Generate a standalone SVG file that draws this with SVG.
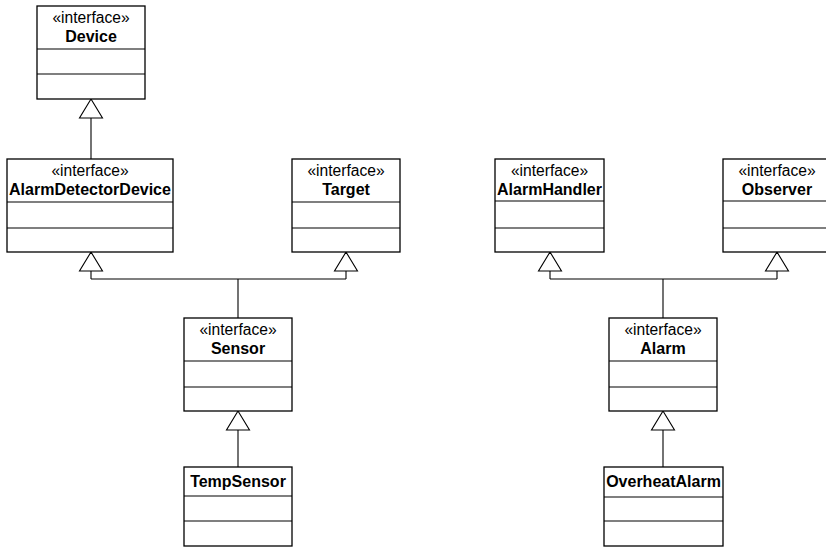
<svg xmlns="http://www.w3.org/2000/svg" width="826" height="547" viewBox="0 0 826 547">
  <style>
    .box { fill: #ffffff; stroke: #000000; stroke-width: 1.3; }
    .sep { stroke: #000000; stroke-width: 1.1; }
    .st { font-family: "Liberation Sans", Arial, sans-serif; font-size: 15.6px; fill: #000000; text-anchor: middle; }
    .nm { font-family: "Liberation Sans", Arial, sans-serif; font-size: 16px; font-weight: bold; fill: #000000; text-anchor: middle; }
    .wire { fill: none; stroke: #000000; stroke-width: 1.1; }
    .head { fill: #ffffff; stroke: #000000; stroke-width: 1.1; }
  </style>
  <rect width="826" height="547" fill="#ffffff"/>

  <!-- generalization connectors -->
  <g id="connectors">
    <!-- AlarmDetectorDevice -> Device -->
    <path class="wire" d="M91 159 V117"/>
    <polygon class="head" points="91,99 79.5,118 102.5,118"/>
    <!-- Sensor -> AlarmDetectorDevice, Target -->
    <path class="wire" d="M238 318 V279 M91 279 H346 M91 279 V271 M346 279 V271"/>
    <polygon class="head" points="91,252 79.5,271 102.5,271"/>
    <polygon class="head" points="346,252 334.5,271 357.5,271"/>
    <!-- TempSensor -> Sensor -->
    <path class="wire" d="M238 467 V430"/>
    <polygon class="head" points="238,411 226.5,430 249.5,430"/>
    <!-- Alarm -> AlarmHandler, Observer -->
    <path class="wire" d="M663 318 V279 M550 279 H777 M550 279 V271 M777 279 V271"/>
    <polygon class="head" points="550,252 538.5,271 561.5,271"/>
    <polygon class="head" points="777,252 765.5,271 788.5,271"/>
    <!-- OverheatAlarm -> Alarm -->
    <path class="wire" d="M663 467 V430"/>
    <polygon class="head" points="663,411 651.5,430 674.5,430"/>
  </g>

  <g id="Device">
    <rect class="box" x="37" y="6" width="108" height="93"/>
    <path class="sep" d="M37 49 H145 M37 74 H145"/>
    <text class="st" x="91" y="23">«interface»</text>
    <text class="nm" x="91" y="42">Device</text>
  </g>

  <g id="AlarmDetectorDevice">
    <rect class="box" x="7" y="159" width="166" height="93"/>
    <path class="sep" d="M7 202 H173 M7 228 H173"/>
    <text class="st" x="90" y="176">«interface»</text>
    <text class="nm" x="90" y="195">AlarmDetectorDevice</text>
  </g>

  <g id="Target">
    <rect class="box" x="292" y="159" width="108" height="93"/>
    <path class="sep" d="M292 202 H400 M292 228 H400"/>
    <text class="st" x="346" y="176">«interface»</text>
    <text class="nm" x="346" y="195">Target</text>
  </g>

  <g id="Sensor">
    <rect class="box" x="184" y="318" width="108" height="93"/>
    <path class="sep" d="M184 361 H292 M184 387 H292"/>
    <text class="st" x="238" y="335">«interface»</text>
    <text class="nm" x="238" y="354">Sensor</text>
  </g>

  <g id="TempSensor">
    <rect class="box" x="184" y="467" width="108" height="79"/>
    <path class="sep" d="M184 496 H292 M184 521 H292"/>
    <text class="nm" x="238" y="487">TempSensor</text>
  </g>

  <g id="AlarmHandler">
    <rect class="box" x="495" y="159" width="109" height="93"/>
    <path class="sep" d="M495 201 H604 M495 228 H604"/>
    <text class="st" x="549.5" y="176">«interface»</text>
    <text class="nm" x="549.5" y="195">AlarmHandler</text>
  </g>

  <g id="Observer">
    <rect class="box" x="723" y="159" width="108" height="93"/>
    <path class="sep" d="M723 201 H831 M723 228 H831"/>
    <text class="st" x="777" y="176">«interface»</text>
    <text class="nm" x="777" y="195">Observer</text>
  </g>

  <g id="Alarm">
    <rect class="box" x="609" y="318" width="108" height="93"/>
    <path class="sep" d="M609 361 H717 M609 387 H717"/>
    <text class="st" x="663" y="335">«interface»</text>
    <text class="nm" x="663" y="354">Alarm</text>
  </g>

  <g id="OverheatAlarm">
    <rect class="box" x="604" y="467" width="119" height="79"/>
    <path class="sep" d="M604 497 H723 M604 521 H723"/>
    <text class="nm" x="663.5" y="487">OverheatAlarm</text>
  </g>
</svg>
